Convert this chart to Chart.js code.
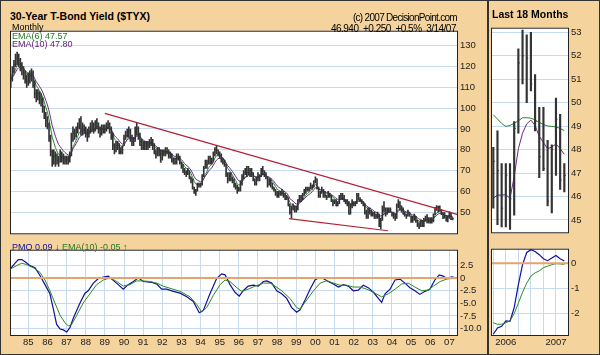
<!DOCTYPE html>
<html>
<head>
<meta charset="utf-8">
<script src="https://cdn.jsdelivr.net/npm/chart.js@4/dist/chart.umd.min.js"></script>
<style>
  body { margin: 0; width: 600px; height: 355px; background: #f5d39d; position: relative; overflow: hidden;
         font-family: "Liberation Sans", Arial, sans-serif; }
  #outer { position: absolute; left: 0; top: 0; width: 598px; height: 353px; border: 1px solid #333; }
  #split { position: absolute; left: 487px; top: 0; width: 2px; height: 355px; background: #333; }
  canvas { position: absolute; }
  .t { position: absolute; white-space: pre; line-height: 1; }
</style>
</head>
<body>
<div id="outer"></div>
<div id="split"></div>

<canvas id="main" width="478" height="219" style="left:10px;top:23px"></canvas>
<canvas id="pmo" width="478" height="110" style="left:10px;top:242px"></canvas>
<canvas id="rmain" width="106" height="221" style="left:491px;top:20px"></canvas>
<canvas id="rpmo" width="106" height="111" style="left:491px;top:241px"></canvas>

<div class="t" style="left:10px;top:11px;font-weight:bold;font-size:10.5px">30-Year T-Bond Yield ($TYX)</div>
<div class="t" style="right:143px;top:13px;font-size:10px;letter-spacing:-0.7px">(c) 2007 DecisionPoint.com</div>
<div class="t" style="right:144px;top:24px;font-size:10px;letter-spacing:-0.5px">46.940  +0.250  +0.5%  3/14/07</div>
<div class="t" style="left:12px;top:23px;font-size:9px">Monthly</div>
<div class="t" style="left:12px;top:32px;font-size:9px;color:#237a23">EMA(6) 47.57</div>
<div class="t" style="left:12px;top:40px;font-size:9px;color:#5a2378">EMA(10) 47.80</div>
<div class="t" style="left:12px;top:243px;font-size:9px"><span style="color:#10109a">PMO 0.09 &#8595;</span> <span style="color:#237a23">EMA(10) -0.05 &#8593;</span></div>
<div class="t" style="left:492px;top:9px;font-weight:bold;font-size:10.5px">Last 18 Months</div>

<script>
// $TYX monthly bars (yield x 10), Feb 1984 .. Mar 2007
const startYear = 1984
const startMonth = 1 // Feb

const hi = [
  116, 120, 123, 126, 127, 126, 124, 122, 120, 118, 116,            // 84
  117, 118, 119, 118, 113, 109, 109, 108, 107, 105, 101, 98,        // 85
  96, 93, 87, 80, 80, 79, 78, 77, 80, 79, 78, 77,                   // 86
  77, 77, 79, 88, 91, 90, 91, 93, 95, 96, 93, 92,                   // 87
  91, 90, 91, 93, 94, 93, 94, 95, 93, 91, 92, 92,                   // 88
  92, 93, 94, 93, 91, 88, 83, 84, 84, 83, 81, 82,                   // 89
  87, 89, 90, 91, 90, 87, 86, 91, 93, 91, 88, 85,                   // 90
  84, 84, 84, 84, 85, 86, 85, 83, 80, 81, 81, 80,                   // 91
  80, 80, 81, 81, 80, 79, 78, 76, 76, 78, 78, 77,                   // 92
  74, 73, 71, 70, 71, 70, 67, 66, 62, 61, 64, 64,                   // 93
  64, 68, 72, 75, 75, 77, 77, 76, 79, 81, 82, 80,                   // 94
  79, 78, 76, 75, 73, 69, 69, 69, 67, 66, 64, 63,                   // 95
  62, 65, 68, 70, 71, 72, 72, 71, 71, 69, 66, 67,                   // 96
  69, 68, 71, 72, 70, 69, 67, 66, 66, 64, 62, 61,                   // 97
  60, 60, 60, 61, 60, 59, 58, 57, 54, 53, 54, 53,                   // 98
  53, 56, 58, 58, 59, 61, 62, 62, 62, 64, 63, 65,                   // 99
  67, 66, 62, 60, 62, 61, 60, 58, 60, 59, 58, 56,                   // 00
  56, 56, 55, 58, 59, 59, 58, 56, 56, 55, 54, 56,                   // 01
  55, 55, 59, 59, 57, 56, 55, 54, 51, 52, 52, 51,                   // 02
  50, 50, 49, 50, 49, 47, 53, 55, 52, 52, 52, 52,                   // 03
  50, 50, 49, 54, 56, 55, 53, 52, 50, 49, 51, 50,                   // 04
  48, 48, 49, 48, 46, 45, 46, 46, 47, 48.1, 48.8, 47.4,             // 05
  47.4, 47.4, 49.2, 52.3, 53.1, 52.9, 53.0, 51.2, 49.8, 49.8, 48.4, 48.2, // 06
  50.2, 49.5, 47.4                                                  // 07
]
const lo = [
  110, 113, 117, 120, 121, 120, 118, 116, 114, 112, 110,
  111, 112, 113, 110, 105, 103, 104, 102, 101, 98, 95, 91,
  90, 84, 77, 72, 73, 72, 73, 72, 74, 74, 73, 73,
  73, 73, 74, 77, 84, 85, 86, 88, 90, 87, 87, 88,
  86, 84, 86, 88, 89, 88, 89, 90, 88, 86, 87, 88,
  88, 89, 90, 88, 85, 80, 78, 79, 80, 78, 78, 78,
  82, 85, 86, 86, 84, 82, 82, 84, 87, 85, 82, 80,
  80, 80, 80, 80, 81, 82, 80, 78, 76, 77, 77, 74,
  75, 77, 77, 78, 76, 76, 74, 73, 73, 73, 75, 73,
  71, 69, 68, 67, 68, 66, 64, 61, 59, 58, 60, 62,
  62, 63, 67, 71, 71, 73, 73, 73, 74, 77, 78, 77,
  76, 74, 73, 72, 67, 64, 65, 65, 64, 62, 61, 59,
  60, 60, 63, 66, 68, 67, 68, 67, 67, 65, 63, 63,
  65, 65, 67, 68, 67, 66, 62, 63, 62, 61, 60, 58,
  57, 57, 58, 58, 57, 56, 56, 53, 49, 47, 51, 50,
  50, 51, 55, 55, 56, 58, 59, 60, 60, 61, 61, 62,
  64, 61, 57, 57, 59, 57, 57, 56, 57, 57, 55, 53,
  54, 53, 53, 54, 56, 56, 55, 54, 53, 49, 49, 52,
  53, 53, 54, 56, 55, 54, 53, 49, 47, 47, 49, 48,
  48, 47, 47, 47, 43, 42, 46, 50, 48, 49, 50, 50,
  48, 47, 46, 47, 52, 51, 50, 49, 48, 47, 48, 48,
  45, 45, 46, 45, 43, 42, 43, 43, 43, 45.5, 44.8, 44.7,
  44.7, 44.6, 45.2, 48.7, 50.8, 50.0, 50.5, 48.8, 46.8, 47.1, 45.6, 45.3,
  46.9, 46.3, 46.2
]
const cl = [
  114, 118, 121, 124, 125, 123, 121, 119, 117, 114, 113,
  114, 115, 117, 113, 107, 106, 107, 105, 104, 101, 97, 94,
  92, 86, 79, 76, 77, 75, 75, 74, 77, 76, 75, 75,
  75, 75, 77, 85, 88, 87, 89, 91, 93, 90, 90, 90,
  88, 86, 89, 91, 92, 90, 92, 93, 90, 88, 90, 90,
  90, 91, 92, 90, 87, 82, 80, 82, 82, 80, 79, 80,
  85, 87, 88, 89, 86, 84, 84, 89, 90, 88, 84, 82,
  81, 82, 82, 82, 83, 84, 82, 79, 78, 79, 79, 74,
  78, 79, 79, 79, 77, 78, 75, 74, 74, 76, 76, 74,
  72, 70, 69, 69, 70, 67, 66, 62, 60, 60, 63, 63,
  63, 67, 71, 73, 73, 76, 74, 75, 78, 80, 80, 79,
  77, 75, 74, 73, 68, 66, 68, 66, 65, 63, 62, 60,
  61, 64, 67, 69, 70, 69, 70, 70, 69, 66, 64, 66,
  67, 67, 70, 70, 69, 67, 63, 66, 64, 62, 61, 59,
  58, 59, 59, 59, 58, 56, 57, 53, 50, 52, 53, 51,
  51, 56, 56, 57, 58, 60, 61, 61, 61, 62, 63, 65,
  66, 62, 58, 59, 60, 59, 58, 57, 59, 58, 56, 55,
  55, 53, 54, 57, 58, 57, 55, 54, 54, 49, 53, 55,
  54, 55, 58, 56, 56, 55, 54, 50, 48, 50, 50, 49,
  49, 47, 48, 48, 44, 46, 51, 52, 49, 51, 51, 51,
  49, 48, 47, 53, 54, 53, 52, 49, 49, 48, 50, 48,
  46, 47, 48, 46, 44, 43, 46, 44, 46, 47.5, 47.1, 45.5,
  46.9, 45.9, 48.9, 51.7, 52.0, 51.9, 50.8, 49.2, 47.7, 47.2, 45.8, 48.0,
  49.3, 46.7, 46.9
]

// red trend lines (decimal year, value)
const upperX = [1989.0, 2007.45]
const upperY = [97.5, 48.8]
const lowerX = [1998.62, 2003.79]
const lowerY = [46.8, 41.0]

// PMO and its EMA(10) (decimal year, value)
const pmoX = [1984.04, 1984.31, 1984.48, 1984.66, 1984.83, 1985.09, 1985.35, 1985.61, 1985.87, 1986.13,
  1986.31, 1986.48, 1986.66, 1986.83, 1987.01, 1987.18, 1987.35, 1987.70, 1987.96, 1988.13,
  1988.40, 1988.66, 1988.92, 1989.18, 1989.36, 1989.70, 1989.96, 1990.22, 1990.49, 1990.75,
  1991.01, 1991.45, 1991.71, 1991.97, 1992.23, 1992.58, 1992.93, 1993.28, 1993.62, 1993.93,
  1994.14, 1994.49, 1994.84, 1995.10, 1995.28, 1995.54, 1995.80, 1996.02, 1996.23, 1996.49,
  1996.76, 1997.02, 1997.28, 1997.46, 1997.72, 1997.98, 1998.24, 1998.50, 1998.76, 1999.02,
  1999.20, 1999.46, 1999.72, 1999.98, 2000.15, 2000.41, 2000.67, 2000.94, 2001.20, 2001.46,
  2001.72, 2001.98, 2002.24, 2002.50, 2002.76, 2003.03, 2003.29, 2003.46, 2003.64, 2003.90,
  2004.16, 2004.42, 2004.68, 2004.94, 2005.20, 2005.46, 2005.72, 2005.98, 2006.24, 2006.47,
  2006.68, 2006.86, 2007.12, 2007.24]
const pmoY = [1.69, 2.9, 3.62, 3.62, 3.2, 2.42, 2.0, 0.48, -1.33, -3.14,
  -6.16, -9.18, -10.08, -10.27, -10.69, -9.78, -7.97, -4.95, -3.02, -2.54,
  -1.03, -0.12, 0.18, 0.36, -0.24, -1.33, -2.23, -1.33, -0.72, 0,
  -0.72, -0.9, -1.21, -2.23, -2.23, -2.66, -3.02, -3.74, -4.65, -6.88,
  -6.46, -3.14, -0.12, 0.79, 0.6, -1.33, -2.84, -3.62, -2.54, -1.63,
  -1.45, -1.63, -0.72, -0.6, -1.03, -2.54, -3.14, -4.05, -5.86, -6.76,
  -6.3, -4.35, -2.23, -0.42, 0, -0.12, -0.72, -1.21, -1.81, -1.33,
  -1.63, -2.54, -2.42, -1.45, -1.93, -2.84, -4.05, -4.83, -3.14, -2.23,
  -0.42, -0.24, -1.03, -1.93, -2.54, -3.26, -2.66, -2.23, -0.42, 0.6,
  0.36, -0.12, 0.18, 0.09]
const sigX = [1984.04, 1984.39, 1984.66, 1984.92, 1985.26, 1985.61, 1985.87, 1986.13, 1986.39, 1986.66,
  1986.92, 1987.09, 1987.27, 1987.53, 1987.87, 1988.22, 1988.57, 1988.92, 1989.27, 1989.62,
  1989.96, 1990.31, 1990.66, 1991.01, 1991.36, 1991.71, 1992.05, 1992.40, 1992.93, 1993.45,
  1993.80, 1994.06, 1994.32, 1994.67, 1995.02, 1995.28, 1995.54, 1995.89, 1996.15, 1996.49,
  1996.84, 1997.28, 1997.63, 1997.89, 1998.24, 1998.67, 1999.02, 1999.20, 1999.55, 1999.90,
  2000.25, 2000.60, 2000.94, 2001.29, 2001.64, 2001.98, 2002.33, 2002.68, 2003.03, 2003.46,
  2003.81, 2004.16, 2004.51, 2004.85, 2005.20, 2005.55, 2005.90, 2006.16, 2006.52, 2006.86,
  2007.24]
const sigY = [1.69, 2.42, 2.9, 2.6, 2.0, 1.09, -0.42, -2.54, -4.95, -7.37,
  -8.88, -9.48, -9.18, -7.37, -4.95, -3.14, -1.33, -0.42, 0, -0.72,
  -1.63, -1.33, -0.6, -0.6, -0.72, -1.03, -1.63, -2.05, -2.66, -3.74,
  -5.25, -6.76, -5.86, -3.44, -1.33, -0.42, -0.72, -1.93, -2.66, -2.23,
  -1.63, -1.03, -1.03, -1.63, -2.54, -4.05, -5.86, -6.16, -4.35, -2.54,
  -1.03, -0.54, -1.03, -1.45, -1.45, -1.81, -1.81, -2.23, -2.84, -3.74,
  -3.14, -2.23, -1.21, -1.03, -1.81, -2.54, -2.42, -1.63, -0.72, -0.24,
  -0.05]

// right panel: last 18 months, Oct 2005 .. Mar 2007
const lastN = 18
const rGreen = [49.49, 49.30, 49.12, 48.99, 49.03, 49.12, 49.23, 49.36, 49.36, 49.34,
  49.27, 49.16, 49.07, 49.01, 48.99, 48.97, 48.90, 48.81]
const rPurple = [45.92, 46.06, 46.06, 46.08, 45.92, 46.85, 48.04, 48.70, 49.10, 49.26,
  49.03, 48.57, 48.30, 48.04, 48.11, 48.24, 48.04, 47.80]
const rPmo = [-2.85, -2.60, -2.53, -2.31, -2.33, -1.78, -0.86, -0.06, 0.43, 0.54,
  0.47, 0.34, 0.18, 0.10, 0.21, 0.31, 0.18, 0.09]
const rSig = [-2.39, -2.45, -2.45, -2.39, -2.31, -2.02, -1.60, -1.17, -0.80, -0.52,
  -0.39, -0.31, -0.18, -0.12, -0.06, -0.02, -0.03, -0.05]

// axis ticks
const years = [1985, 1986, 1987, 1988, 1989, 1990, 1991, 1992, 1993, 1994, 1995, 1996,
  1997, 1998, 1999, 2000, 2001, 2002, 2003, 2004, 2005, 2006, 2007]
const mainTicks = [50, 60, 70, 80, 90, 100, 110, 120, 130]
const pmoTicks = [2.5, 0, -2.5, -5, -7.5, -10]
const rTicks = [45, 46, 47, 48, 49, 50, 51, 52, 53]
const rPmoTicks = [0, -1, -2]
const rMonthTicks = [0, 3, 6, 9, 12, 15]  // months since Oct 2005
const rYearLabels = { 3: '2006', 15: '2007' }

/** colours */
const gridC = '#c6dbef'
const barC = '#333'
const greenC = '#2a8a2a'
const purpleC = '#6a2a8a'
const blueC = '#10109a'
const redC = '#b52035'
const zeroC = '#e6a46c'
const tickFont = { family: '"Liberation Sans", Arial, sans-serif', size: 9.5 }

Chart.defaults.font.family = '"Liberation Sans", Arial, sans-serif'
Chart.defaults.animation = false
Chart.defaults.events = []
Chart.defaults.plugins.legend.display = false
Chart.defaults.plugins.tooltip.enabled = false

// white plot area and black frame
const panel = {
  id: 'panel',
  beforeDraw(c) {
    const a = c.chartArea, ctx = c.ctx
    ctx.save(); ctx.fillStyle = '#fff'; ctx.fillRect(a.left, a.top, a.width, a.height); ctx.restore()
  },
  afterDraw(c) {
    const a = c.chartArea, ctx = c.ctx
    ctx.save(); ctx.strokeStyle = '#222'; ctx.lineWidth = 1
    ctx.strokeRect(a.left + 0.5, a.top + 0.5, a.width - 1, a.height - 1); ctx.restore()
  }
}

const setTicks = list => s => { s.ticks = list.map(v => ({ value: v })) }

function xAxis(min, max, list, labels, h) {
  return {
    type: 'linear', min: min, max: max,
    afterBuildTicks: setTicks(list),
    ticks: { display: !!labels, callback: labels, font: tickFont, color: '#222', padding: 1, maxRotation: 0, autoSkip: false },
    grid: { color: gridC, drawTicks: false },
    border: { display: false },
    afterFit: s => { s.height = h }
  }
}
function yAxis(min, max, list, w, fmt) {
  return {
    position: 'right', min: min, max: max,
    afterBuildTicks: setTicks(list),
    ticks: { font: tickFont, color: '#222', padding: 2, callback: fmt },
    grid: { color: gridC, drawTicks: false },
    border: { display: false },
    afterFit: s => { s.width = w }
  }
}

const line = (xs, ys, color, width) => ({
  type: 'line', data: xs.map((x, i) => ({ x: x, y: ys[i] })),
  borderColor: color, borderWidth: width, pointRadius: 0, tension: 0
})

function ema(src, n) {
  const k = 2 / (n + 1)
  let e = src[0]
  return src.map(v => (e = e + k * (v - e)))
}

/** main panel */
const monthX = hi.map((_, i) => startYear + (startMonth + i) / 12)

new Chart(document.getElementById('main'), {
  type: 'bar',
  data: {
    datasets: [
      line(upperX, upperY, redC, 1.2),
      line(lowerX, lowerY, redC, 1.2),
      {
        type: 'bar', data: monthX.map((x, i) => ({ x: x, y: [lo[i], hi[i]] })),
        backgroundColor: barC, barThickness: 1, grouped: false
      },
      {
        type: 'line', data: monthX.map((x, i) => ({ x: x, y: cl[i] })), showLine: false,
        pointStyle: 'dash', pointRadius: 1, pointBorderColor: barC, pointBorderWidth: 1
      },
      line(monthX, ema(cl, 10), purpleC, 1),
      line(monthX, ema(cl, 6), greenC, 1)
    ]
  },
  options: {
    responsive: false, layout: { autoPadding: false },
    scales: {
      x: xAxis(1984.044, 2007.45, years, null, 0),
      y: yAxis(39.3, 137.3, mainTicks, 30)
    }
  },
  plugins: [panel]
})

new Chart(document.getElementById('pmo'), {
  type: 'line',
  data: {
    datasets: [
      line([1984.044, 2007.45], [0, 0], zeroC, 2),
      line(sigX, sigY, greenC, 1),
      line(pmoX, pmoY, blueC, 1.2)
    ]
  },
  options: {
    responsive: false, layout: { autoPadding: false },
    scales: {
      x: xAxis(1984.044, 2007.45, years, v => String(v).slice(2), 16),
      y: yAxis(-11.47, 5.56, pmoTicks, 30, v => (v === 0 ? '0' : v.toFixed(1)))
    }
  },
  plugins: [panel]
})

/** right panel: last 18 months */
const rIdx = rGreen.map((_, i) => i)
const off = hi.length - lastN

new Chart(document.getElementById('rmain'), {
  type: 'bar',
  data: {
    datasets: [
      {
        type: 'bar', data: rIdx.map(i => ({ x: i, y: [lo[off + i], hi[off + i]] })),
        backgroundColor: '#333', barThickness: 1.5, grouped: false
      },
      {
        type: 'line', data: rIdx.map(i => ({ x: i, y: cl[off + i] })), showLine: false,
        pointStyle: 'dash', pointRadius: 1.5, pointBorderColor: '#333', pointBorderWidth: 1
      },
      line(rIdx, rGreen, greenC, 1),
      line(rIdx, rPurple, purpleC, 1)
    ]
  },
  options: {
    responsive: false, layout: { autoPadding: false },
    scales: {
      x: xAxis(-0.55, 18.12, rMonthTicks, null, 0),
      y: yAxis(44.43, 53.2, rTicks, 28)
    }
  },
  plugins: [panel]
})

new Chart(document.getElementById('rpmo'), {
  type: 'line',
  data: {
    datasets: [
      line([-0.55, 18.12], [0, 0], zeroC, 2),
      line(rIdx, rSig, greenC, 1),
      line(rIdx, rPmo, blueC, 1.2)
    ]
  },
  options: {
    responsive: false, layout: { autoPadding: false },
    scales: {
      x: xAxis(-0.55, 18.12, rMonthTicks, v => rYearLabels[v] || '', 16),
      y: yAxis(-2.92, 0.58, rPmoTicks, 28)
    }
  },
  plugins: [panel]
})
</script>
</body>
</html>
